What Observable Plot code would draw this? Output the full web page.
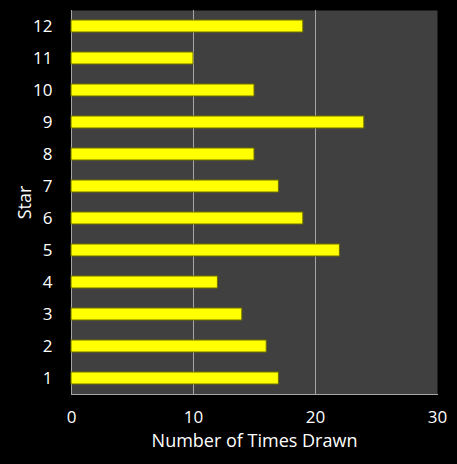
<!DOCTYPE html>
<html>
<head>
<meta charset="utf-8">
<script src="https://cdn.jsdelivr.net/npm/d3@7"></script>
<script src="https://cdn.jsdelivr.net/npm/@observablehq/plot@0.6"></script>
<style>
  html, body { margin: 0; padding: 0; background: #000; }
  #chart svg { display: block; }
</style>
</head>
<body>
<div id="chart"></div>
<script>
const stars = ["1","2","3","4","5","6","7","8","9","10","11","12"];
const timesDrawn = [17, 16, 14, 12, 22, 19, 17, 15, 24, 15, 10, 19];
const xTicks = [0, 10, 20, 30];
const gridValues = [10, 20];

const data = stars.map((s, i) => ({star: s, count: timesDrawn[i]}));

const chart = Plot.plot({
  width: 457,
  height: 464,
  marginLeft: 71,
  marginRight: 20,
  marginTop: 10,
  marginBottom: 70,
  style: {background: "#000", color: "#fff", fontFamily: "'Open Sans', sans-serif", fontSize: "17px"},
  x: {domain: [0, 30], ticks: xTicks},
  y: {domain: stars.slice().reverse(), paddingInner: 0.62, paddingOuter: 0.31},
  marks: [
    Plot.frame({fill: "#404040", stroke: null}),
    Plot.ruleX(gridValues, {stroke: "#a6a6a6", strokeWidth: 1}),
    Plot.ruleX([0], {stroke: "#a6a6a6"}),
    Plot.frame({anchor: "bottom", stroke: "#a6a6a6"}),
    Plot.barX(data, {x: "count", y: "star", fill: "#ffff00", stroke: "#6e6e00", strokeWidth: 1}),
    Plot.axisX({ticks: xTicks, tickSize: 0, tickPadding: 16, fontSize: 17, label: null}),
    Plot.axisX({ticks: [], tickSize: 0, fontSize: 18, label: "Number of Times Drawn", labelAnchor: "center", labelArrow: "none", labelOffset: 52}),
    Plot.axisY({tickSize: 0, tickPadding: 19, fontSize: 17, label: null}),
    Plot.axisY({ticks: [], tickSize: 0, fontSize: 18, label: "Star", labelAnchor: "center", labelArrow: "none", labelOffset: 53})
  ]
});
document.getElementById("chart").append(chart);
</script>
</body>
</html>
